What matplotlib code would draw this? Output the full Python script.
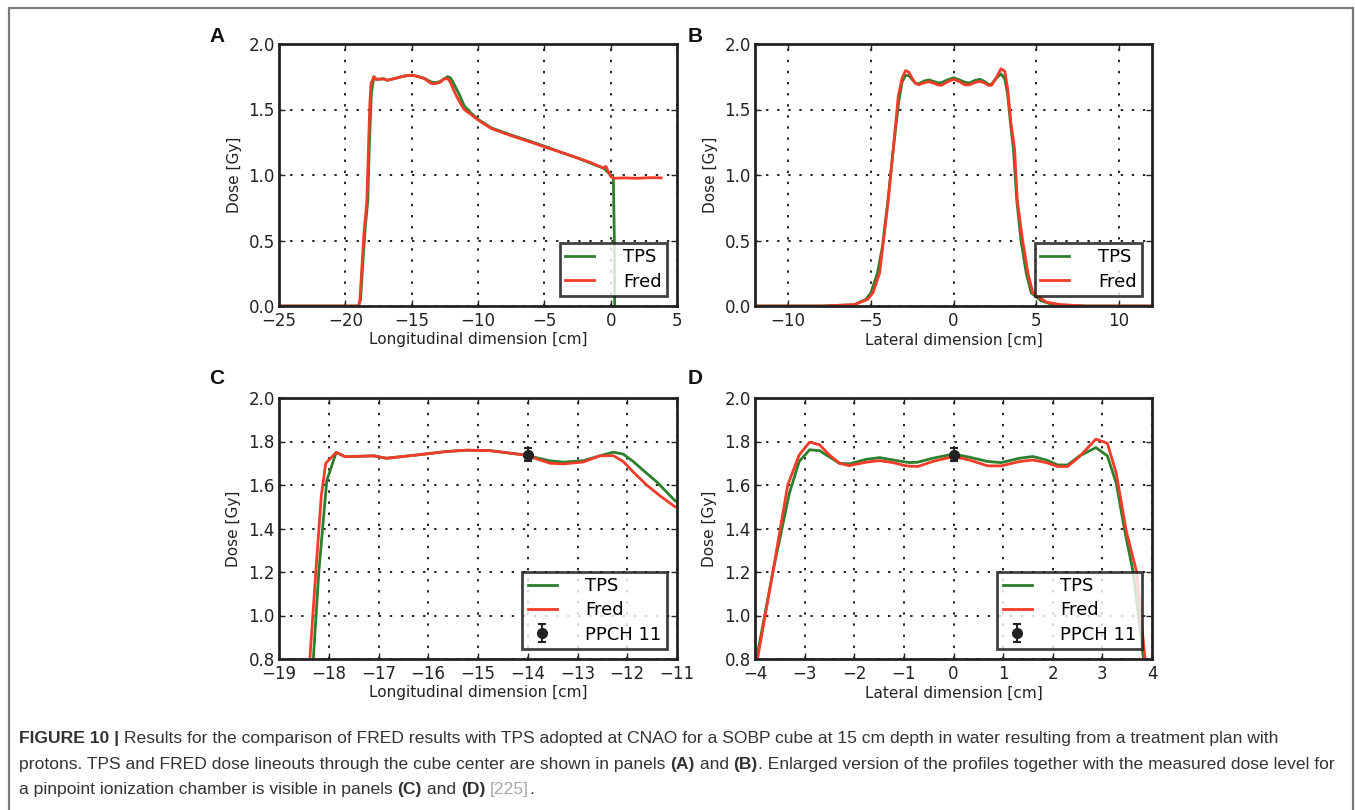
import matplotlib
matplotlib.use("Agg")
import matplotlib.pyplot as plt
from matplotlib.patches import Rectangle

# ----------------------------------------------------------------------
# Data
# ----------------------------------------------------------------------

# longitudinal profile (panels A and C)
long_tps_x = [-25, -19.0, -18.85, -18.7, -18.5, -18.31, -18.2, -18.04, -17.85, -17.67,
              -17.1, -16.84, -16.23, -15.63, -15.23, -14.76, -14.06, -13.55, -13.28,
              -12.88, -12.55, -12.28, -12.08, -11.88, -11.61, -11.41, -11.04, -10.5,
              -10.0, -9.0, -7.5, -6.0, -5.0, -3.5, -2.5, -1.5, -0.5, 0.0, 0.2, 0.28, 0.3]
long_tps_y = [0.0, 0.0, 0.05, 0.3, 0.6, 0.8, 1.2, 1.62, 1.75, 1.73,
              1.734, 1.723, 1.738, 1.754, 1.76, 1.758, 1.738, 1.711, 1.705,
              1.712, 1.734, 1.751, 1.742, 1.708, 1.654, 1.615, 1.528, 1.47,
              1.425, 1.36, 1.305, 1.255, 1.22, 1.165, 1.13, 1.09, 1.05, 1.0, 0.98, 0.5, 0.0]

long_fred_x = [-25, -19.0, -18.9, -18.75, -18.6, -18.38, -18.26, -18.15, -18.06, -17.85,
               -17.67, -17.1, -16.84, -16.23, -15.63, -15.23, -14.76, -14.06, -13.55,
               -13.28, -12.88, -12.55, -12.28, -12.08, -11.88, -11.61, -11.34, -11.04,
               -10.5, -10.0, -9.0, -7.5, -6.0, -5.0, -3.5, -2.5, -1.5, -0.6, -0.35, -0.2,
               0.0, 0.2, 1.0, 2.0, 3.0, 3.8]
long_fred_y = [0.0, 0.0, 0.05, 0.3, 0.55, 0.8, 1.2, 1.55, 1.70, 1.75,
               1.73, 1.734, 1.723, 1.738, 1.754, 1.76, 1.758, 1.738, 1.70,
               1.697, 1.706, 1.734, 1.735, 1.708, 1.66, 1.60, 1.55, 1.50,
               1.46, 1.42, 1.355, 1.30, 1.25, 1.215, 1.165, 1.13, 1.095, 1.055, 1.065, 1.03,
               0.99, 0.975, 0.978, 0.975, 0.98, 0.978]

# lateral profile (panels B and D)
lat_tps_x = [-12, -8.0, -6.0, -5.3, -5.0, -4.6, -4.3, -3.97, -3.64, -3.31, -3.11, -2.90,
             -2.70, -2.30, -2.10, -1.76, -1.49, -1.22, -0.89, -0.72, -0.42, 0.0, 0.32,
             0.69, 0.96, 1.33, 1.60, 1.87, 2.10, 2.30, 2.54, 2.87, 3.10, 3.28, 3.45,
             3.62, 3.83, 4.08, 4.4, 4.7, 5.3, 6.0, 8.0, 12]
lat_tps_y = [0.0, 0.0, 0.01, 0.05, 0.1, 0.25, 0.45, 0.8, 1.2, 1.56, 1.708, 1.762,
             1.758, 1.70, 1.697, 1.718, 1.726, 1.715, 1.703, 1.705, 1.723, 1.742, 1.728,
             1.708, 1.703, 1.723, 1.731, 1.715, 1.692, 1.692, 1.734, 1.772, 1.734, 1.608, 1.39,
             1.2, 0.8, 0.5, 0.25, 0.1, 0.04, 0.01, 0.0, 0.0]

lat_fred_x = [-12, -8.0, -6.0, -5.2, -4.87, -4.47, -4.23, -3.95, -3.64, -3.34, -3.11,
              -2.90, -2.70, -2.50, -2.30, -2.10, -1.76, -1.49, -1.22, -0.96, -0.72, -0.42,
              0.0, 0.32, 0.69, 0.96, 1.33, 1.60, 1.87, 2.10, 2.30, 2.54, 2.87, 3.10, 3.28,
              3.48, 3.69, 3.86, 4.18, 4.5, 4.8, 5.6, 6.5, 8.0, 12]
lat_fred_y = [0.0, 0.0, 0.01, 0.05, 0.1, 0.25, 0.5, 0.8, 1.2, 1.6, 1.738,
              1.797, 1.785, 1.738, 1.70, 1.689, 1.705, 1.712, 1.703, 1.688, 1.685, 1.708,
              1.731, 1.715, 1.688, 1.688, 1.708, 1.715, 1.703, 1.685, 1.685, 1.731, 1.811, 1.792, 1.654,
              1.39, 1.2, 0.8, 0.5, 0.25, 0.1, 0.03, 0.01, 0.0, 0.0]

# pinpoint chamber measurements
ppch_long = (-14.0, 1.74, 0.03)
ppch_lat = (0.0, 1.74, 0.03)

tps_color = "#2c7f2c"
fred_color = "#f23b28"

# ----------------------------------------------------------------------
# Figure
# ----------------------------------------------------------------------

plt.rcParams["font.family"] = "DejaVu Sans"
fig = plt.figure(figsize=(13.55, 8.10), dpi=100)

W, H = 1355.0, 810.0


def axes_px(left, top, right, bottom):
    return fig.add_axes([left / W, 1 - bottom / H, (right - left) / W, (bottom - top) / H])


def style_axes(ax, xlim, ylim, xticks, yticks, xlabel):
    ax.set_xlim(*xlim)
    ax.set_ylim(*ylim)
    ax.set_xticks(xticks)
    ax.set_yticks(yticks)
    ax.grid(True, linestyle=":", color="#222222", linewidth=1.4, dashes=(1.2, 4.5))
    ax.set_axisbelow(True)
    for sp in ax.spines.values():
        sp.set_linewidth(2.0)
        sp.set_color("#222222")
    ax.tick_params(direction="in", top=True, right=True, length=4, width=1,
                   labelsize=12, pad=4, colors="#222222")
    ax.tick_params(axis="y", pad=3)
    ax.set_xlabel(xlabel, fontsize=11, labelpad=2, color="#222222")
    ax.set_ylabel("Dose [Gy]", fontsize=11, labelpad=5, color="#222222")
    ax.yaxis.set_major_formatter(matplotlib.ticker.FormatStrFormatter("%.1f"))


def add_legend(ax):
    leg = ax.legend(loc="lower right", fontsize=13, handlelength=1.6, handletextpad=1.6,
                    borderaxespad=0.55, borderpad=0.3, labelspacing=0.35, fancybox=False,
                    numpoints=1)
    leg.get_frame().set_edgecolor("#111111")
    leg.get_frame().set_linewidth(2.0)


ax_a = axes_px(279, 44, 677, 306)
ax_b = axes_px(755, 44, 1152, 306)
ax_c = axes_px(279, 398, 677, 659)
ax_d = axes_px(755, 398, 1152, 659)

# A
ax_a.plot(long_tps_x, long_tps_y, color=tps_color, lw=2, label="TPS")
ax_a.plot(long_fred_x, long_fred_y, color=fred_color, lw=2, label="Fred")
style_axes(ax_a, (-25, 5), (0, 2.0), range(-25, 6, 5), [0, 0.5, 1.0, 1.5, 2.0],
           "Longitudinal dimension [cm]")
add_legend(ax_a)

# B
ax_b.plot(lat_tps_x, lat_tps_y, color=tps_color, lw=2, label="TPS")
ax_b.plot(lat_fred_x, lat_fred_y, color=fred_color, lw=2, label="Fred")
style_axes(ax_b, (-12, 12), (0, 2.0), [-10, -5, 0, 5, 10], [0, 0.5, 1.0, 1.5, 2.0],
           "Lateral dimension [cm]")
add_legend(ax_b)

# C
ax_c.plot(long_tps_x, long_tps_y, color=tps_color, lw=2, label="TPS")
ax_c.plot(long_fred_x, long_fred_y, color=fred_color, lw=2, label="Fred")
ax_c.errorbar([ppch_long[0]], [ppch_long[1]], yerr=[ppch_long[2]], fmt="o", color="#222222",
              ms=7, capsize=3, elinewidth=1.5, capthick=1.5, label="PPCH 11")
style_axes(ax_c, (-19, -11), (0.8, 2.0), range(-19, -10), [0.8, 1.0, 1.2, 1.4, 1.6, 1.8, 2.0],
           "Longitudinal dimension [cm]")
add_legend(ax_c)

# D
ax_d.plot(lat_tps_x, lat_tps_y, color=tps_color, lw=2, label="TPS")
ax_d.plot(lat_fred_x, lat_fred_y, color=fred_color, lw=2, label="Fred")
ax_d.errorbar([ppch_lat[0]], [ppch_lat[1]], yerr=[ppch_lat[2]], fmt="o", color="#222222",
              ms=7, capsize=3, elinewidth=1.5, capthick=1.5, label="PPCH 11")
style_axes(ax_d, (-4, 4), (0.8, 2.0), range(-4, 5), [0.8, 1.0, 1.2, 1.4, 1.6, 1.8, 2.0],
           "Lateral dimension [cm]")
add_legend(ax_d)

# panel letters
for lab, x, y in [("A", 217, 36), ("B", 695, 36), ("C", 217, 378), ("D", 695, 378)]:
    fig.text(x / W, 1 - y / H, lab, family="Liberation Sans", weight="bold", fontsize=15,
             ha="center", va="center", color="#111111")

# outer frame
fig.add_artist(Rectangle((9 / W, -0.02), (1353 - 9) / W, 1 - 8 / H + 0.02,
                         transform=fig.transFigure, fill=False, edgecolor="#7a7a7a", lw=1.6))

# caption
cap_color = "#333333"
cap_kw = dict(family="Liberation Sans", fontsize=12.6)
caption_lines = [
    [("FIGURE 10 | ", "bold", cap_color),
     ("Results for the comparison of FRED results with TPS adopted at CNAO for a SOBP cube "
      "at 15 cm depth in water resulting from a treatment plan with", "normal", cap_color)],
    [("protons. TPS and FRED dose lineouts through the cube center are shown in panels ",
      "normal", cap_color), ("(A)", "bold", cap_color), (" and ", "normal", cap_color),
     ("(B)", "bold", cap_color),
     (". Enlarged version of the profiles together with the measured dose level for",
      "normal", cap_color)],
    [("a pinpoint ionization chamber is visible in panels ", "normal", cap_color),
     ("(C)", "bold", cap_color), (" and ", "normal", cap_color), ("(D)", "bold", cap_color),
     (" ", "normal", cap_color), ("[225]", "normal", "#a8a8a8"), (".", "normal", cap_color)],
]
line_y = [743, 769, 794]
for parts, yb in zip(caption_lines, line_y):
    s, w, c = parts[0]
    t = fig.text(19 / W, 1 - yb / H, s, weight=w, va="baseline", color=c, **cap_kw)
    for s, w, c in parts[1:]:
        t = ax_a.annotate(s, xy=(1, 0), xycoords=t, va="bottom", ha="left",
                          weight=w, annotation_clip=False, color=c, **cap_kw)

fig.savefig("out.png", dpi=100)
